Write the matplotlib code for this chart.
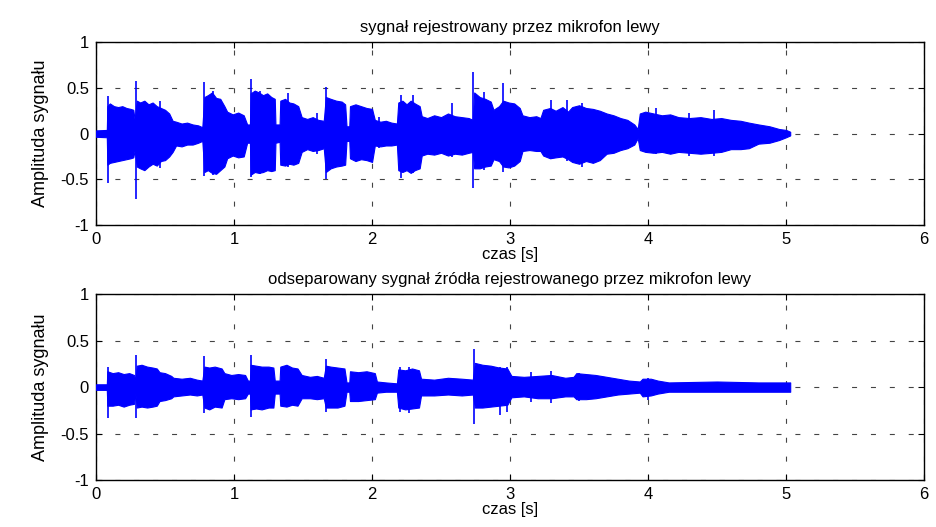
import numpy as np
import matplotlib
matplotlib.use('Agg')
import matplotlib.pyplot as plt

plt.rcParams['font.family'] = ['Liberation Sans', 'DejaVu Sans']
plt.rcParams['font.size'] = 11

# obwiednia sygnalu z mikrofonu lewego: czas [s], gora, dol
t_left = [0.000, 0.078, 0.082, 0.10, 0.13, 0.16, 0.19, 0.22, 0.25, 0.27, 0.28, 0.295,
          0.32, 0.35, 0.38, 0.41, 0.44, 0.47, 0.50, 0.53, 0.555, 0.58, 0.62, 0.66,
          0.70, 0.74, 0.77, 0.785, 0.81, 0.84, 0.87, 0.90, 0.93, 0.95, 0.99, 1.03,
          1.07, 1.095, 1.115, 1.12, 1.15, 1.18, 1.21, 1.24, 1.27, 1.295, 1.30, 1.33,
          1.335, 1.37, 1.40, 1.43, 1.465, 1.49, 1.53, 1.57, 1.61, 1.65, 1.665, 1.70,
          1.74, 1.78, 1.805, 1.815, 1.835, 1.84, 1.88, 1.92, 1.96, 2.00, 2.02, 2.06,
          2.10, 2.14, 2.18, 2.19, 2.22, 2.25, 2.28, 2.31, 2.345, 2.36, 2.40, 2.45,
          2.50, 2.55, 2.60, 2.65, 2.70, 2.73, 2.74, 2.78, 2.82, 2.86, 2.88, 2.92,
          2.95, 2.99, 3.03, 3.07, 3.09, 3.14, 3.19, 3.22, 3.24, 3.29, 3.33, 3.38,
          3.42, 3.45, 3.50, 3.55, 3.60, 3.65, 3.70, 3.75, 3.80, 3.85, 3.90, 3.925,
          3.94, 3.98, 4.04, 4.10, 4.16, 4.22, 4.30, 4.38, 4.46, 4.53, 4.60, 4.67,
          4.73, 4.80, 4.88, 4.95, 5.00, 5.03]
up_left = [0.035, 0.04, 0.30, 0.33, 0.30, 0.29, 0.30, 0.28, 0.27, 0.26, 0.15, 0.36,
           0.34, 0.36, 0.32, 0.34, 0.30, 0.28, 0.26, 0.22, 0.14, 0.13, 0.11, 0.12,
           0.10, 0.09, 0.07, 0.40, 0.42, 0.45, 0.39, 0.38, 0.30, 0.24, 0.21, 0.23,
           0.20, 0.10, 0.10, 0.44, 0.47, 0.45, 0.42, 0.44, 0.40, 0.38, 0.10, 0.10,
           0.36, 0.38, 0.34, 0.33, 0.30, 0.18, 0.16, 0.18, 0.15, 0.14, 0.40, 0.38,
           0.36, 0.35, 0.32, 0.08, 0.08, 0.30, 0.32, 0.30, 0.28, 0.27, 0.15, 0.13,
           0.14, 0.12, 0.11, 0.34, 0.36, 0.32, 0.36, 0.33, 0.30, 0.19, 0.17, 0.20,
           0.18, 0.22, 0.19, 0.18, 0.17, 0.15, 0.45, 0.40, 0.38, 0.35, 0.26, 0.30,
           0.36, 0.34, 0.33, 0.28, 0.20, 0.18, 0.19, 0.17, 0.26, 0.28, 0.25, 0.29,
           0.24, 0.29, 0.31, 0.28, 0.27, 0.25, 0.22, 0.20, 0.17, 0.15, 0.10, 0.05,
           0.22, 0.24, 0.22, 0.20, 0.21, 0.18, 0.17, 0.18, 0.16, 0.17, 0.15, 0.14,
           0.12, 0.10, 0.08, 0.05, 0.04, 0.02]
lo_left = [-0.035, -0.04, -0.34, -0.32, -0.31, -0.30, -0.29, -0.28, -0.27, -0.26, -0.18, -0.36,
           -0.38, -0.40, -0.36, -0.33, -0.35, -0.30, -0.29, -0.25, -0.20, -0.13, -0.14, -0.12,
           -0.12, -0.10, -0.08, -0.42, -0.40, -0.43, -0.44, -0.40, -0.36, -0.27, -0.24, -0.26,
           -0.25, -0.10, -0.10, -0.45, -0.42, -0.43, -0.42, -0.40, -0.41, -0.40, -0.10, -0.09,
           -0.34, -0.35, -0.33, -0.34, -0.32, -0.20, -0.17, -0.19, -0.18, -0.16, -0.42, -0.38,
           -0.36, -0.35, -0.34, -0.08, -0.08, -0.27, -0.30, -0.28, -0.29, -0.31, -0.13, -0.14,
           -0.13, -0.13, -0.12, -0.40, -0.42, -0.40, -0.43, -0.40, -0.38, -0.24, -0.22, -0.23,
           -0.21, -0.24, -0.22, -0.23, -0.21, -0.20, -0.38, -0.38, -0.36, -0.35, -0.28, -0.30,
           -0.36, -0.37, -0.35, -0.30, -0.19, -0.18, -0.19, -0.19, -0.24, -0.27, -0.26, -0.25,
           -0.28, -0.31, -0.33, -0.30, -0.32, -0.29, -0.22, -0.21, -0.18, -0.16, -0.12, -0.05,
           -0.18, -0.20, -0.21, -0.20, -0.22, -0.20, -0.21, -0.22, -0.21, -0.20, -0.17, -0.17,
           -0.16, -0.11, -0.10, -0.07, -0.04, -0.02]
# pojedyncze piki sygnalu lewego
pk_t_left = [0.09, 0.29, 0.46, 0.78, 0.845, 1.12, 1.19, 1.39, 1.60, 1.665, 2.05, 2.21,
             2.30, 2.58, 2.735, 2.81, 2.95, 3.30, 3.41, 3.52, 4.06, 4.30, 4.48]
pk_up_left = [0.41, 0.57, 0.36, 0.56, 0.47, 0.60, 0.47, 0.44, 0.22, 0.51, 0.18, 0.42,
              0.42, 0.33, 0.67, 0.45, 0.55, 0.37, 0.37, 0.34, 0.28, 0.22, 0.26]
pk_lo_left = [-0.54, -0.72, -0.38, -0.46, -0.45, -0.47, -0.44, -0.36, -0.22, -0.50, -0.16, -0.49,
              -0.43, -0.26, -0.60, -0.40, -0.42, -0.28, -0.30, -0.36, -0.22, -0.24, -0.24]

# obwiednia sygnalu odseparowanego
t_sep = [0.000, 0.078, 0.082, 0.12, 0.16, 0.20, 0.24, 0.275, 0.285, 0.295, 0.33, 0.37,
         0.41, 0.44, 0.46, 0.50, 0.545, 0.56, 0.62, 0.68, 0.73, 0.77, 0.785, 0.82,
         0.86, 0.91, 0.93, 0.98, 1.03, 1.08, 1.10, 1.115, 1.12, 1.16, 1.20, 1.25,
         1.285, 1.295, 1.33, 1.335, 1.38, 1.42, 1.46, 1.49, 1.55, 1.60, 1.65, 1.665,
         1.70, 1.75, 1.80, 1.815, 1.835, 1.84, 1.90, 1.96, 2.02, 2.035, 2.10, 2.18,
         2.19, 2.24, 2.29, 2.34, 2.355, 2.45, 2.55, 2.65, 2.73, 2.745, 2.80, 2.86,
         2.92, 2.98, 3.01, 3.10, 3.20, 3.30, 3.40, 3.46, 3.48, 3.55, 3.62, 3.70,
         3.78, 3.86, 3.94, 3.96, 4.02, 4.07, 4.15, 4.50, 4.80, 5.03]
up_sep = [0.03, 0.03, 0.17, 0.15, 0.16, 0.14, 0.15, 0.13, 0.07, 0.23, 0.24, 0.22,
          0.21, 0.20, 0.16, 0.15, 0.12, 0.10, 0.09, 0.10, 0.08, 0.07, 0.22, 0.21,
          0.22, 0.20, 0.15, 0.13, 0.14, 0.13, 0.07, 0.07, 0.24, 0.23, 0.22, 0.22,
          0.21, 0.07, 0.07, 0.22, 0.24, 0.21, 0.20, 0.13, 0.11, 0.12, 0.10, 0.23,
          0.22, 0.21, 0.20, 0.05, 0.05, 0.17, 0.16, 0.17, 0.15, 0.06, 0.05, 0.04,
          0.19, 0.18, 0.20, 0.18, 0.09, 0.08, 0.10, 0.09, 0.08, 0.26, 0.24, 0.23,
          0.21, 0.20, 0.12, 0.11, 0.12, 0.13, 0.10, 0.11, 0.15, 0.14, 0.13, 0.11,
          0.09, 0.07, 0.06, 0.09, 0.09, 0.07, 0.05, 0.06, 0.05, 0.05]
lo_sep = [-0.03, -0.03, -0.20, -0.20, -0.19, -0.21, -0.19, -0.18, -0.07, -0.22, -0.21, -0.22,
          -0.21, -0.20, -0.15, -0.14, -0.12, -0.10, -0.09, -0.08, -0.09, -0.08, -0.22, -0.24,
          -0.21, -0.22, -0.13, -0.12, -0.13, -0.12, -0.07, -0.07, -0.24, -0.23, -0.24, -0.22,
          -0.22, -0.07, -0.07, -0.20, -0.21, -0.19, -0.20, -0.12, -0.12, -0.13, -0.12, -0.22,
          -0.22, -0.22, -0.20, -0.05, -0.05, -0.15, -0.15, -0.14, -0.13, -0.06, -0.05, -0.05,
          -0.22, -0.24, -0.23, -0.22, -0.09, -0.09, -0.08, -0.09, -0.08, -0.22, -0.22, -0.21,
          -0.20, -0.19, -0.11, -0.10, -0.12, -0.12, -0.10, -0.10, -0.13, -0.13, -0.12, -0.10,
          -0.08, -0.07, -0.06, -0.10, -0.09, -0.07, -0.05, -0.05, -0.05, -0.05]
pk_t_sep = [0.085, 0.29, 0.78, 1.12, 1.665, 2.20, 2.27, 2.74, 2.93, 2.98, 3.15, 3.30, 3.50, 4.00]
pk_up_sep = [0.22, 0.34, 0.33, 0.35, 0.30, 0.22, 0.22, 0.41, 0.22, 0.22, 0.16, 0.17, 0.15, 0.10]
pk_lo_sep = [-0.33, -0.33, -0.28, -0.32, -0.27, -0.27, -0.28, -0.40, -0.30, -0.27, -0.16, -0.17, -0.15, -0.14]

titles = ['sygnał rejestrowany przez mikrofon lewy',
          'odseparowany sygnał źródła rejestrowanego przez mikrofon lewy']

fig = plt.figure(figsize=(9.37, 5.27), dpi=100)
ax1 = fig.add_axes([0.1025, 0.573, 0.8837, 0.347])
ax2 = fig.add_axes([0.1025, 0.089, 0.8837, 0.353])

panels = [(ax1, t_left, up_left, lo_left, pk_t_left, pk_up_left, pk_lo_left),
          (ax2, t_sep, up_sep, lo_sep, pk_t_sep, pk_up_sep, pk_lo_sep)]

for i, (ax, t, up, lo, pt, pu, pl) in enumerate(panels):
    ax.fill_between(t, lo, up, color='#0000ff', lw=0.8, edgecolor='#0000ff', zorder=3)
    ax.vlines(pt, pl, pu, color='#0000ff', lw=1.2, zorder=3)
    ax.set_xlim(0, 6)
    ax.set_ylim(-1, 1)
    ax.set_xticks(range(7))
    ax.set_yticks([-1, -0.5, 0, 0.5, 1])
    ax.set_yticklabels(['-1', '-0.5', '0', '0.5', '1'])
    ax.grid(True, color='#444444', linestyle=(0, (4.5, 12.5)), lw=0.8, zorder=1)
    ax.tick_params(direction='in', top=True, right=True, length=4, labelsize=12, pad=5)
    for s in ax.spines.values():
        s.set_linewidth(1.0)
    ax.set_title(titles[i], fontsize=12, pad=7)
    ax.set_xlabel('czas [s]', fontsize=12, labelpad=0)
    ax.set_ylabel('Amplituda sygnału', fontsize=13, labelpad=8)

fig.savefig('out.png', dpi=100)
